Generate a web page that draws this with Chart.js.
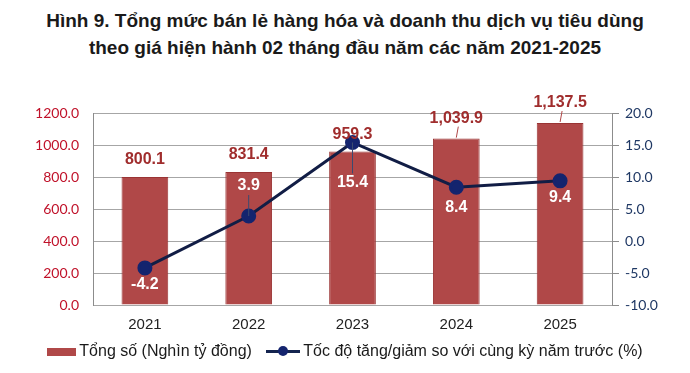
<!DOCTYPE html>
<html>
<head>
<meta charset="utf-8">
<script src="https://cdn.jsdelivr.net/npm/chart.js@4.4.1/dist/chart.umd.min.js"></script>
<style>
  body { margin: 0; background: #fff; }
  #wrap { position: relative; width: 690px; height: 373px; overflow: hidden; }
  #title {
    position: absolute; top: 7px; left: 0; width: 690px; text-align: center;
    font: bold 19px "Liberation Sans", Arial, sans-serif; line-height: 27px; color: #1a1a1a;
  }
  #chartBox { position: absolute; top: 70px; left: 0; width: 690px; height: 282px; }
  #legend {
    position: absolute; top: 342px; left: 0; width: 690px; text-align: center;
    font: 16px "Liberation Sans", Arial, sans-serif; color: #1a1a1a; white-space: nowrap;
  }
  .item { display: inline-block; margin: 0 5px; }
  .box { display: inline-block; width: 29px; height: 8px; background: #b04848; vertical-align: middle; margin-right: 3px; }
  .ln { display: inline-block; position: relative; width: 34px; height: 3px; background: #14244f; vertical-align: middle; margin-right: 3px; }
  .ln::after { content: ""; position: absolute; left: 12px; top: -4px; width: 10px; height: 10px; border-radius: 50%; background: #14246e; }
</style>
</head>
<body>
<div id="wrap">
  <div id="title">Hình 9. Tổng mức bán lẻ hàng hóa và doanh thu dịch vụ tiêu dùng<br>theo giá hiện hành 02 tháng đầu năm các năm 2021-2025</div>
  <div id="chartBox"><canvas id="chart"></canvas></div>
  <div id="legend">
    <span class="item"><span class="box"></span>Tổng số (Nghìn tỷ đồng)</span>
    <span class="item"><span class="ln"></span>Tốc độ tăng/giảm so với cùng kỳ năm trước (%)</span>
  </div>
</div>
<script>
const years = ['2021', '2022', '2023', '2024', '2025']
const totals = [800.1, 831.4, 959.3, 1039.9, 1137.5]
const growth = [-4.2, 3.9, 15.4, 8.4, 9.4]

// label offsets (px) for the growth line, relative to each point
const growthOffsets = [17, -30, 40, 20, 17]

const fmt = (v) => v.toLocaleString('en-US', { minimumFractionDigits: 1, maximumFractionDigits: 1 })

const labelPlugin = {
  id: 'valueLabels',
  afterDatasetsDraw (chart) {
    const ctx = chart.ctx
    ctx.save()
    ctx.textAlign = 'center'
    ctx.textBaseline = 'middle'
    ctx.font = 'bold 16px "Liberation Sans", Arial, sans-serif'

    const bars = chart.getDatasetMeta(0).data
    bars.forEach((bar, i) => {
      let y = bar.y - 17
      if (totals[i] > 1000) {
        y = bar.y - 20
        ctx.strokeStyle = '#b04848'
        ctx.lineWidth = 1
        ctx.beginPath()
        ctx.moveTo(bar.x, bar.y - 1)
        ctx.lineTo(bar.x + 2, y + 8)
        ctx.stroke()
      }
      ctx.fillStyle = '#a02d2d'
      ctx.fillText(fmt(totals[i]), bar.x, y)
    })

    const pts = chart.getDatasetMeta(1).data
    pts.forEach((pt, i) => {
      const off = growthOffsets[i]
      const y = pt.y + off
      if (Math.abs(off) > 25) {
        ctx.strokeStyle = '#3a4a70'
        ctx.lineWidth = 1
        ctx.beginPath()
        ctx.moveTo(pt.x, pt.y)
        ctx.lineTo(pt.x, off > 0 ? y - 9 : y + 9)
        ctx.stroke()
      }
      ctx.fillStyle = '#ffffff'
      ctx.fillText(fmt(growth[i]), pt.x, y)
    })
    ctx.restore()
  }
}

const tickFont = { family: 'Lato, "Open Sans", sans-serif', size: 14 }

new Chart(document.getElementById('chart').getContext('2d'), {
  data: {
    labels: years,
    datasets: [
      {
        type: 'bar',
        label: 'Tổng số (Nghìn tỷ đồng)',
        data: totals,
        backgroundColor: '#b04848',
        borderColor: '#9a3434',
        borderWidth: 1,
        categoryPercentage: 1,
        barPercentage: 0.45,
        yAxisID: 'y',
        order: 2
      },
      {
        type: 'line',
        label: 'Tốc độ tăng/giảm so với cùng kỳ năm trước (%)',
        data: growth,
        borderColor: '#111d45',
        borderWidth: 3,
        pointRadius: 6,
        pointBackgroundColor: '#14246e',
        pointBorderColor: '#14246e',
        tension: 0,
        yAxisID: 'y1',
        order: 1
      }
    ]
  },
  options: {
    responsive: true,
    maintainAspectRatio: false,
    animation: false,
    layout: { padding: { top: 43, bottom: 7 } },
    plugins: {
      legend: { display: false },
      tooltip: { enabled: false }
    },
    scales: {
      x: {
        grid: { display: false, drawTicks: false },
        border: { display: false },
        ticks: { color: '#222', font: { family: '"Liberation Sans", Arial, sans-serif', size: 15 }, padding: 11 }
      },
      y: {
        position: 'left',
        min: 0,
        max: 1200,
        grid: { color: '#a6a6a6', drawTicks: false },
        border: { display: true, color: '#8c8c8c' },
        ticks: {
          stepSize: 200,
          color: '#c0122a',
          font: tickFont,
          padding: 14,
          callback: (v) => v.toFixed(1)
        },
        afterFit: (scale) => { scale.width = 93 }
      },
      y1: {
        position: 'right',
        min: -10,
        max: 20,
        grid: { drawOnChartArea: false, drawTicks: true, tickLength: 7, color: '#8c8c8c' },
        border: { display: true, color: '#8c8c8c' },
        ticks: {
          stepSize: 5,
          color: '#1f3864',
          font: tickFont,
          padding: 6,
          callback: (v) => v.toFixed(1)
        },
        afterFit: (scale) => { scale.width = 78 }
      }
    }
  },
  plugins: [labelPlugin]
})
</script>
</body>
</html>
